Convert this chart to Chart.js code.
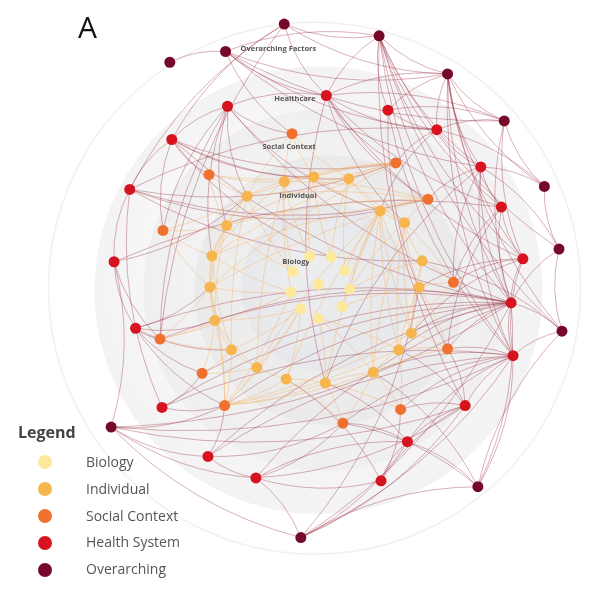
<!DOCTYPE html>
<html>
<head>
<meta charset="utf-8">
<script src="https://cdn.jsdelivr.net/npm/chart.js@4/dist/chart.umd.min.js"></script>
<style>
  body { margin: 0; background: #fff; font-family: "Open Sans", sans-serif; }
  #wrap { position: absolute; left: 0; top: 0; width: 589px; height: 591px; }
  #panel { position: absolute; left: 78px; top: 6px; font-size: 30px; color: #111; }
  #legend { position: absolute; left: 18px; top: 421px; color: #555; }
  #legend h4 { margin: 0 0 6px 0; font-size: 16px; font-weight: 700; color: #444; }
  #legend div { height: 26.8px; font-size: 14px; line-height: 26.8px; position: relative; padding-left: 68px; }
  #legend span { position: absolute; left: 20px; top: 6.4px; width: 14px; height: 14px; border-radius: 50%; }
</style>
</head>
<body>
<div id="wrap"><canvas id="net"></canvas></div>
<div id="panel">A</div>
<div id="legend"><h4>Legend</h4></div>
<script>
// layout positions of each node, one list per level
const overarching = [[284,18],[381,30],[224,46],[167,57],[451,69],[509,117],[550,184],[565,248],[568,332],[107,430],[482,491],[301,543]];
const healthSystem = [[327,91],[226,102],[390,106],[440,126],[169,136],[485,164],[126,187],[506,205],[528,258],[110,261],[516,303],[132,329],[518,357],[469,408],[159,410],[410,445],[206,460],[255,482],[383,485]];
const socialContext = [[292,130],[398,160],[207,172],[431,197],[160,229],[457,282],[157,340],[451,350],[200,375],[223,408],[403,412],[344,426]];
const individual = [[284,179],[314,174],[350,176],[246,194],[382,209],[407,221],[225,224],[425,260],[210,255],[422,287],[208,287],[414,334],[213,321],[401,351],[230,351],[375,374],[256,369],[326,385],[286,381]];
const biology = [[310,255],[332,256],[293,271],[346,270],[319,284],[351,289],[291,292],[343,307],[301,309],[319,319]];

const levels = ['Biology', 'Individual', 'Social Context', 'Health System', 'Overarching'];
const levelColors = ['#fde99b', '#f7b54d', '#f0702e', '#d7131f', '#76092a'];
const ringLabels = ['Overarching Factors', 'Healthcare', 'Social Context', 'Individual', 'Biology'];
const ringLabelPos = [[278,43],[295,94],[289,144],[298,194],[296,261]];

// links, written as "from to" node ids (O, H, S, I, B + index)
const links = [
  'O0 O1','O0 O4','O0 H0','O0 H4','O0 H6','O0 S6',
  'O1 O2','O1 O4','O1 H2','O1 H0','O1 H5','O1 H7','O1 H8','O1 H10','O1 H12','O1 O8','O1 H13','O1 O7',
  'O2 O3','O2 O4','O2 O5','O2 H3','O2 H0','O2 S0','O2 H5',
  'O4 O5','O4 O6','O4 H0','O4 H2','O4 H3','O4 H5','O4 H7','O4 H8','O4 H10','O4 H12','O4 O8',
  'O5 O6','O5 H3','O5 H2','O5 H0','O5 H8','O5 H10',
  'O6 O7','O6 H5','O6 H3','O7 O8','O7 H5','O7 H10',
  'O8 O10','O8 H10','O8 H12','O8 I7',
  'O9 H9','O9 O11','O9 H10','O9 H12','O9 H13','O9 H16','O9 S9','O9 H17',
  'O10 O11','O10 H12','O10 H10','O10 S11','O10 H15','O10 I15',
  'O11 H10','O11 H12','O11 H13','O11 H15','O11 H17','O11 I9',
  'H0 H1','H0 H3','H0 S1','H0 H7','H0 H8','H0 I5','H0 S3','H0 I17',
  'H1 H4','H1 S0','H1 I3','H1 I6','H1 I8','H1 S4','H1 H10','H1 S6','H1 I4',
  'H2 H12','H2 S7','H2 H3',
  'H3 H5','H3 S1','H3 I4','H3 H6',
  'H4 H6','H4 S2','H4 I1','H4 I2','H4 S1','H4 H10','H4 B1','H4 S4',
  'H5 H7','H5 S3','H5 H10','H5 H12','H5 S5','H5 I17',
  'H6 H9','H6 S3','H6 I7','H6 S1','H6 H14','H6 I4',
  'H7 H8','H7 H9','H7 S5','H7 H10','H7 S7',
  'H8 H10','H8 H12','H8 S5','H8 I9','H8 I11',
  'H9 H11','H9 I3','H9 S6',
  'H10 H12','H10 H11','H10 S6','H10 S8','H10 S9','H10 I12','H10 H14','H10 H16','H10 H17','H10 S7','H10 I11','H10 I13',
  'H11 S6','H11 S8','H11 S9','H11 I10','H11 I12','H11 I14',
  'H12 H13','H12 H14','H12 H16','H12 S10','H12 S11','H12 I15','H12 H15','H12 S7',
  'H13 H15','H13 S10','H13 S7','H13 H18','H13 I13',
  'H14 S9','H14 S8',
  'H15 H18','H15 S11','H15 H17','H15 I17',
  'H16 H17','H16 S9','H16 S11',
  'H17 H18','H17 H13','H17 S11','H18 S10','H18 I18',
  'S0 I0','S0 I1','S0 I3','S0 I2',
  'S1 I0','S1 I3','S1 I6','S1 I1','S1 I2','S1 I8','S1 I10',
  'S2 I3','S2 I6','S2 I0','S2 I1',
  'S3 I4','S3 I5','S3 I0','S3 I3','S3 I6','S3 I8','S3 I10',
  'S4 I6','S4 I8','S4 I10','S4 I3',
  'S5 I7','S5 I9','S5 I5','S5 I11',
  'S6 I12','S6 I10','S6 I14','S6 B6',
  'S7 I11','S7 I13','S7 I9','S7 I15',
  'S8 I14','S8 I12','S8 I16',
  'S9 I14','S9 I16','S9 I18','S9 I12','S9 I10','S9 I17','S9 I15','S9 B8','S9 B6','S9 I13','S9 I11',
  'S10 I15','S10 I13','S10 I17',
  'S11 I17','S11 I18','S11 I15',
  'I0 B2','I0 B0','I0 I3','I0 I8','I0 B6','I0 I16',
  'I1 B0','I1 B1','I1 I2','I1 I4',
  'I2 B1','I2 B3','I2 I4','I2 I5',
  'I3 I6','I3 B2','I3 I8','I3 I14',
  'I4 I5','I4 B3','I4 I15','I4 I17','I4 B7','I4 I13','I4 I9','I4 I11','I4 B5','I4 I16','I4 I18',
  'I5 I7','I5 I9','I5 B5','I5 I11','I5 I15','I5 I13',
  'I6 I8','I6 B2','I6 I10','I6 I12',
  'I7 I9','I7 B5','I7 I11',
  'I8 I10','I8 B6','I8 I12','I8 I14',
  'I9 I11','I9 B7','I9 I13',
  'I10 I12','I10 B6','I12 I14','I12 B8','I12 I16',
  'I13 I15','I13 B9','I14 I16','I14 B8','I15 I17','I15 B9',
  'I16 I18','I16 B8','I17 I18','I17 B9','I18 B8'
];

const groups = { B: biology, I: individual, S: socialContext, H: healthSystem, O: overarching };

function nodeOf(id) {
  const p = groups[id[0]][parseInt(id.slice(1), 10)];
  return { x: p[0], y: p[1], level: id[0] };
}

// grey spheres, outer ring, curved links and ring titles drawn under the nodes
const networkPlugin = {
  id: 'network',
  beforeDatasetsDraw(chart) {
    const { ctx, scales: { x, y } } = chart;
    const px = v => x.getPixelForValue(v);
    const py = v => y.getPixelForValue(v);
    const len = v => Math.abs(x.getPixelForValue(v) - x.getPixelForValue(0));

    ctx.save();
    // faint outer ring
    ctx.beginPath();
    ctx.arc(px(315), py(288), len(272), 0, Math.PI * 2);
    ctx.strokeStyle = 'rgba(236,236,236,0.8)';
    ctx.lineWidth = 1.5;
    ctx.stroke();

    const discs = [
      [319, 290, 229, '#fcfcfc', '#f3f3f3'],
      [325, 290, 185, '#f6f6f6', '#efefef'],
      [330, 290, 138, '#f2f2f2', '#eaeaeb'],
      [326, 287, 86, '#ecedef', '#e7e8eb']
    ];
    discs.forEach(([cx, cy, r, c0, c1]) => {
      const X = px(cx), Y = py(cy), R = len(r);
      const g = ctx.createRadialGradient(X - R * 0.3, Y - R * 0.3, R * 0.1, X, Y, R);
      g.addColorStop(0, c0);
      g.addColorStop(1, c1);
      ctx.beginPath();
      ctx.arc(X, Y, R, 0, Math.PI * 2);
      ctx.fillStyle = g;
      ctx.fill();
    });

    // links
    ctx.lineWidth = 0.8;
    links.forEach(l => {
      const [a, b] = l.split(' ').map(nodeOf);
      const x1 = px(a.x), y1 = py(a.y), x2 = px(b.x), y2 = py(b.y);
      const warm = 'OH'.indexOf(a.level) < 0 && 'OH'.indexOf(b.level) < 0;
      const bend = warm ? 0.07 : 0.14;
      const dx = x2 - x1, dy = y2 - y1;
      const mx = (x1 + x2) / 2 - dy * bend, my = (y1 + y2) / 2 + dx * bend;
      ctx.strokeStyle = warm ? 'rgba(244,176,92,0.5)' : 'rgba(150,36,60,0.45)';
      ctx.beginPath();
      ctx.moveTo(x1, y1);
      ctx.quadraticCurveTo(mx, my, x2, y2);
      ctx.stroke();
    });

    // ring titles
    ctx.font = 'bold 7.5px "Open Sans", sans-serif';
    ctx.fillStyle = '#555';
    ctx.textAlign = 'center';
    ctx.textBaseline = 'middle';
    ringLabels.forEach((t, i) => ctx.fillText(t, px(ringLabelPos[i][0]), py(ringLabelPos[i][1])));
    ctx.restore();
  }
};

const nodeLists = [biology, individual, socialContext, healthSystem, overarching];

new Chart(document.getElementById('net'), {
  type: 'scatter',
  data: {
    datasets: nodeLists.map((list, i) => ({
      label: levels[i],
      data: list.map(p => ({ x: p[0], y: p[1] })),
      backgroundColor: levelColors[i],
      borderColor: levelColors[i],
      pointRadius: 5.5,
      pointHoverRadius: 6.5,
      borderWidth: 0
    })).reverse()
  },
  options: {
    responsive: true,
    maintainAspectRatio: false,
    animation: false,
    layout: { padding: 0 },
    scales: {
      x: { type: 'linear', min: 0, max: 589, display: false },
      y: { type: 'linear', min: 0, max: 591, reverse: true, display: false }
    },
    plugins: {
      legend: { display: false },
      tooltip: { enabled: false }
    }
  },
  plugins: [networkPlugin]
});

// legend box
const legendBox = document.getElementById('legend');
levels.forEach((name, i) => {
  const row = document.createElement('div');
  row.innerHTML = '<span style="background:' + levelColors[i] + '"></span>' + name;
  legendBox.appendChild(row);
});
</script>
</body>
</html>
